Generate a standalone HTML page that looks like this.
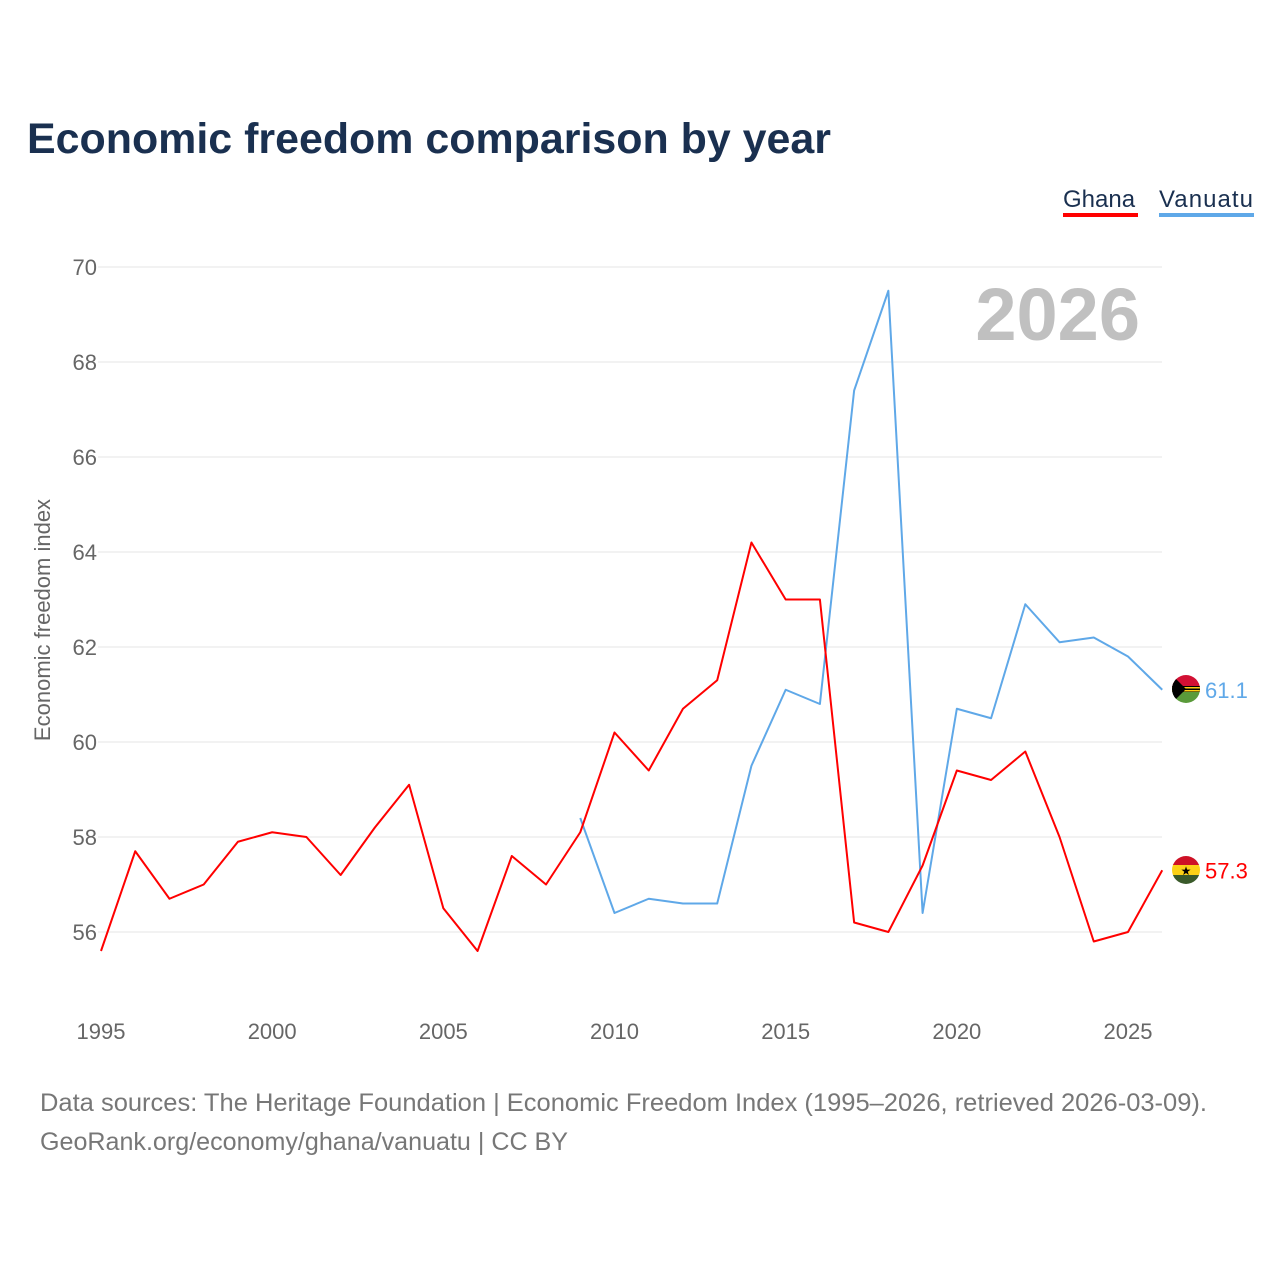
<!DOCTYPE html>
<html><head><meta charset="utf-8"><style>
html,body{margin:0;padding:0;background:#fff;width:1280px;height:1280px;overflow:hidden;font-family:"Liberation Sans",sans-serif}
</style></head><body>
<svg id="chart" width="1280" height="1280" xmlns="http://www.w3.org/2000/svg" font-family="Liberation Sans, sans-serif">
<defs>
<clipPath id="cv"><circle cx="1186" cy="689" r="14"/></clipPath>
<clipPath id="cg"><circle cx="1186" cy="870" r="14"/></clipPath>
</defs>
<text x="27" y="153" font-size="43" font-weight="bold" fill="#1a3050" textLength="804" lengthAdjust="spacingAndGlyphs">Economic freedom comparison by year</text>
<g><text x="1063" y="207" font-size="24" fill="#1a3050">Ghana</text><rect x="1063" y="213" width="75" height="4" fill="#ff0000"/></g>
<g><text x="1159" y="207" font-size="24" fill="#1a3050" textLength="94">Vanuatu</text><rect x="1159" y="213" width="95" height="4" fill="#5fa8e8"/></g>
<text x="1140" y="340" text-anchor="end" font-size="74" font-weight="bold" fill="#c0c0c0">2026</text>
<text transform="translate(50,620) rotate(-90)" text-anchor="middle" font-size="22" fill="#666">Economic freedom index</text>
<g id="grid"></g><g id="xt"></g><g id="series"></g>
<g clip-path="url(#cv)">
<rect x="1170" y="673" width="32" height="16" fill="#d21034"/><rect x="1170" y="689" width="32" height="16" fill="#5a9a3a"/>
<rect x="1170" y="686" width="32" height="6" fill="#000"/><rect x="1170" y="687" width="32" height="1.5" fill="#fdce12"/><rect x="1170" y="690" width="32" height="1.5" fill="#fdce12"/>
<polygon points="1170,673 1186,689 1170,705" fill="#000"/>
</g>
<g clip-path="url(#cg)">
<rect x="1170" y="854" width="32" height="11" fill="#ce1126"/><rect x="1170" y="865" width="32" height="10" fill="#fcd116"/><rect x="1170" y="875" width="32" height="11" fill="#3a5a2a"/>
<text x="1186" y="875" text-anchor="middle" font-size="12" fill="#000">★</text>
</g>
<text x="40" y="1111" font-size="25" fill="#777" textLength="1167" lengthAdjust="spacingAndGlyphs">Data sources: The Heritage Foundation | Economic Freedom Index (1995–2026, retrieved 2026-03-09).</text>
<text x="40" y="1150" font-size="25" fill="#777" textLength="528" lengthAdjust="spacingAndGlyphs">GeoRank.org/economy/ghana/vanuatu | CC BY</text>
</svg>
<script>
const yTicks=[56,58,60,62,64,66,68,70];
const xTicks=[1995,2000,2005,2010,2015,2020,2025];
const ghanaYears=[1995,1996,1997,1998,1999,2000,2001,2002,2003,2004,2005,2006,2007,2008,2009,2010,2011,2012,2013,2014,2015,2016,2017,2018,2019,2020,2021,2022,2023,2024,2025,2026];
const ghanaValues=[55.6,57.7,56.7,57.0,57.9,58.1,58.0,57.2,58.2,59.1,56.5,55.6,57.6,57.0,58.1,60.2,59.4,60.7,61.3,64.2,63.0,63.0,56.2,56.0,57.4,59.4,59.2,59.8,58.0,55.8,56.0,57.3];
const vanuatuYears=[2009,2010,2011,2012,2013,2014,2015,2016,2017,2018,2019,2020,2021,2022,2023,2024,2025,2026];
const vanuatuValues=[58.4,56.4,56.7,56.6,56.6,59.5,61.1,60.8,67.4,69.5,56.4,60.7,60.5,62.9,62.1,62.2,61.8,61.1];
const NS="http://www.w3.org/2000/svg";
const x=yr=>101+(yr-1995)*(1027/30);
const y=v=>932-(v-56)*(665/14);
function mk(t,a,p){const e=document.createElementNS(NS,t);for(const k in a)e.setAttribute(k,a[k]);p.appendChild(e);return e;}
const g=document.getElementById('grid');
yTicks.forEach(t=>{
 const l=mk('line',{x1:98,x2:1162,y1:y(t),y2:y(t),stroke:'#e6e6e6','stroke-width':1},g);
 
 
 const tx=mk('text',{x:97,y:y(t)+8,'text-anchor':'end','font-size':22,fill:'#666'},g);tx.textContent=t;
 
 
});
const xt=document.getElementById('xt');
xTicks.forEach(t=>{
 const tx=mk('text',{x:x(t),y:1039,'text-anchor':'middle','font-size':22,fill:'#666'},xt);tx.textContent=t;
 
 
});
const s=document.getElementById('series');
function line(ys,vs,col,name){
 const p=mk('polyline',{points:ys.map((yr,i)=>x(yr)+','+y(vs[i])).join(' '),fill:'none',stroke:col,'stroke-width':2,'stroke-linejoin':'round'},s);
 
 
 const lv=vs[vs.length-1],cy=y(lv);
 const t=mk('text',{x:1205,y:cy+8,'font-size':22,fill:col},s);t.textContent=lv.toFixed(1);
 
 
}
line(vanuatuYears,vanuatuValues,'#5fa8e8','vanuatu');
line(ghanaYears,ghanaValues,'#ff0000','ghana');
</script>
</body></html>
